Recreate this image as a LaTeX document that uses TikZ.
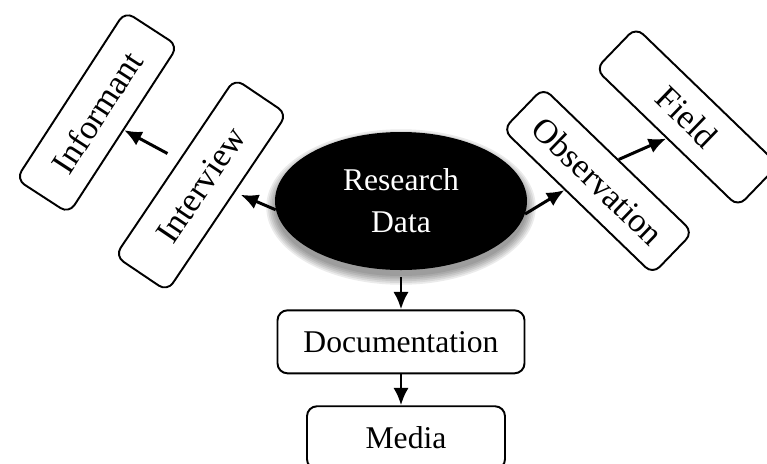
\documentclass[tikz,border=0pt]{standalone}
\usepackage{fontspec}
\setmainfont{Liberation Serif}
\usetikzlibrary{arrows.meta, positioning}
\usetikzlibrary{shapes, calc}
\usetikzlibrary{backgrounds}

\begin{document}
\begin{tikzpicture}[every node/.style={align=center}, font=\fontsize{18}{24}\selectfont, >={Latex[length=3.5mm,width=3.1mm]}]
        \def\boxh{12.6mm}
        \def\gapy{7.8mm}
        \useasboundingbox (-80.2mm,-52.4mm) rectangle (73.2mm,40.2mm);
        \node[ellipse, fill=black, text=white, minimum width=50.4mm, minimum height=27.6mm, inner sep=0pt] (resdata) at (0,0) {Research\\ Data};
        % soft shadow under the ellipse
        \begin{pgfonlayer}{background}
            \foreach \s in {0,...,5}
                \fill[black, opacity=0.08] (0,-1.2mm) ellipse ({25.2mm+\s*0.35mm} and {13.8mm+\s*0.35mm});
        \end{pgfonlayer}
        \begin{scope}[every node/.style={align=center, draw, line width=1.1pt, rounded corners=2mm, minimum height=\boxh, inner sep=1pt}]
            \node[below=\gapy of resdata, minimum width=49.4mm] (docu) {Documentation};
            \node[below=6.2mm of docu, xshift=1mm, minimum width=39.6mm] (media) {Media};
        \end{scope}
        \begin{scope}[every node/.style={align=center, draw, line width=1.1pt, rounded corners=2mm, minimum height=\boxh, inner sep=1pt, font=\fontsize{19.5}{24}\selectfont}]
            \node[rotate=56, minimum width=42.8mm] (interview) at (-40mm,3.2mm) {Interview};
            \node[rotate=57, minimum width=40mm] (informant) at (-60.8mm,17.7mm) {Informant};
            \node[rotate=-44, minimum width=41.6mm, minimum height=11.6mm] (observ) at (39.4mm,4mm) {Observation};
            \node[rotate=-44, minimum width=39.6mm, minimum height=11.6mm] (field) at (57.2mm,16.8mm) {Field};
        \end{scope}
        \begin{scope}[line width=1.7pt]
            \draw[->, shorten <=1.4mm] (resdata.south) -- (docu.north);
            \draw[->] (docu.south) -- (docu.south |- media.north);
            \draw[->, shorten >=1.2mm] (resdata.184) -- ($(interview.south)!0.12!(interview.south east)$);
            \draw[->, shorten <=2.6mm] ($(interview.north)!0.08!(interview.north east)$) -- (informant.south);
            \draw[->] (resdata.354) -- ($(observ.south)!0.17!(observ.south west)$);
            \draw[->] (observ.north) -- (field.south);
        \end{scope}
    \end{tikzpicture}
\end{document}
